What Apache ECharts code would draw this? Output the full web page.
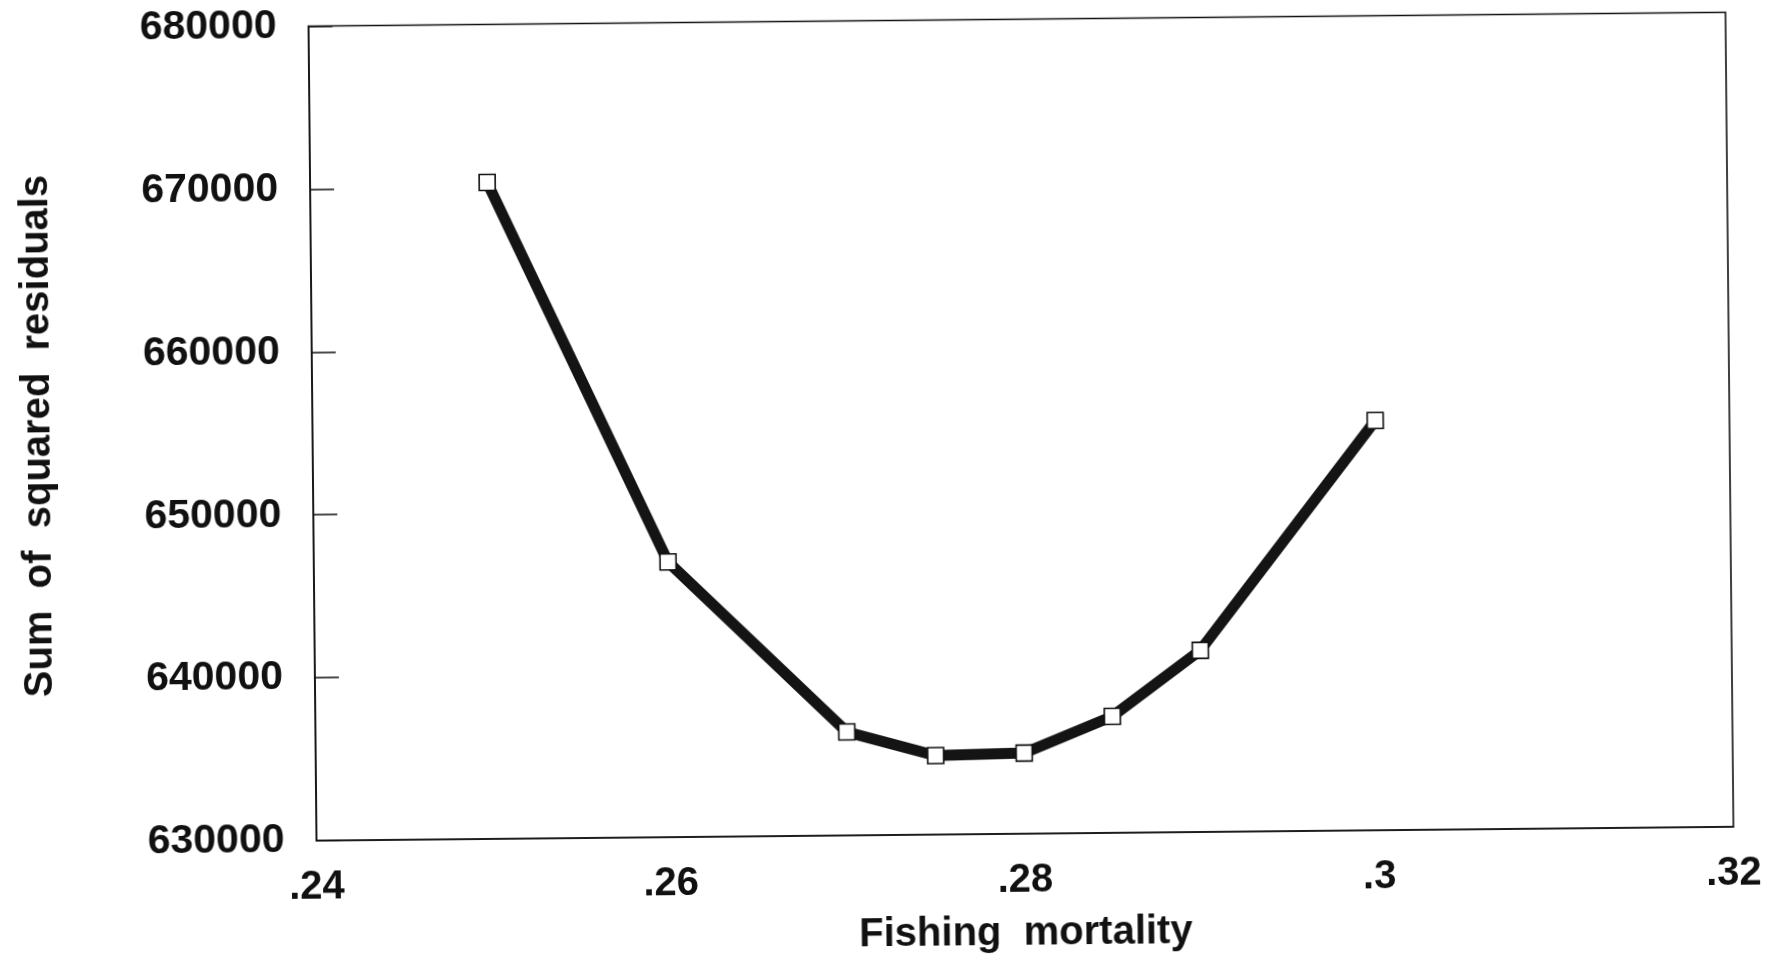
<!DOCTYPE html>
<html>
<head>
<meta charset="utf-8">
<script src="https://cdn.jsdelivr.net/npm/echarts@6/dist/echarts.min.js"></script>
<style>
  html, body { margin: 0; padding: 0; background: #ffffff; }
  #chart { width: 1782px; height: 960px; transform: rotate(-0.56deg); transform-origin: 50% 50%; }
</style>
</head>
<body>
<div id="chart"></div>
<script>
// Data
const fishingMortality = [0.25, 0.26, 0.27, 0.275, 0.28, 0.285, 0.29, 0.30];
const sumSquaredResiduals = [670300, 646900, 636350, 634850, 634950, 637150, 641150, 655150];
const xAxisTitle = 'Fishing  mortality';
const yAxisTitle = 'Sum  of  squared  residuals';
const xMin = 0.24, xMax = 0.32, xStep = 0.02;
const yMin = 630000, yMax = 680000, yStep = 10000;

const points = fishingMortality.map((f, i) => [f, sumSquaredResiduals[i]]);
const fontFamily = '"Liberation Sans", Arial, Helvetica, sans-serif';

const chart = echarts.init(document.getElementById('chart'), null, { renderer: 'canvas' });
chart.setOption({
  animation: false,
  backgroundColor: '#ffffff',
  grid: { left: 313, right: 52, top: 17, bottom: 118, show: true, borderColor: '#111', borderWidth: 1.6, containLabel: false },
  xAxis: {
    type: 'value', min: xMin, max: xMax, interval: xStep,
    name: xAxisTitle, nameLocation: 'middle', nameGap: 80,
    nameTextStyle: { fontFamily, fontWeight: 'bold', fontSize: 40, color: '#111' },
    axisLine: { show: true, lineStyle: { color: '#111', width: 1.6 } },
    axisTick: { show: false },
    splitLine: { show: false },
    axisLabel: {
      margin: 27, fontFamily, fontWeight: 'bold', fontSize: 40, color: '#111',
      formatter: v => String(Number(v.toFixed(2))).replace(/^0/, '')
    }
  },
  yAxis: {
    type: 'value', min: yMin, max: yMax, interval: yStep,
    name: yAxisTitle, nameLocation: 'middle', nameGap: 254, nameRotate: 90,
    nameTextStyle: { fontFamily, fontWeight: 'bold', fontSize: 40, color: '#111' },
    axisLine: { show: true, lineStyle: { color: '#111', width: 1.6 } },
    axisTick: { show: true, inside: true, length: 24, lineStyle: { color: '#111', width: 1.5 } },
    splitLine: { show: false },
    axisLabel: {
      margin: 32, fontFamily, fontWeight: 'bold', fontSize: 41, color: '#111',
      formatter: v => String(Math.round(v))
    }
  },
  series: [{
    type: 'line',
    data: points,
    symbol: 'rect',
    symbolSize: 16,
    showAllSymbol: true,
    lineStyle: { color: '#141414', width: 11, join: 'miter' },
    itemStyle: { color: '#ffffff', borderColor: '#111', borderWidth: 1.6 },
    z: 3
  }]
});
</script>
</body>
</html>
